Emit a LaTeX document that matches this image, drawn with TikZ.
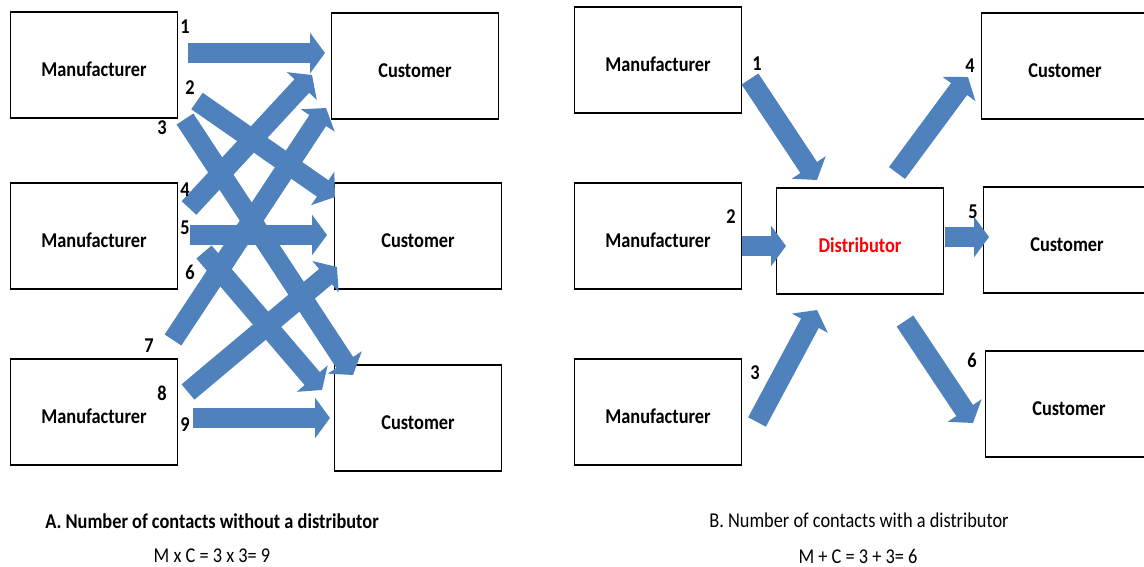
\documentclass[tikz,border=0pt]{standalone}
\usepackage{fontspec}
\setmainfont{Carlito}[FakeStretch=0.87]
\usetikzlibrary{arrows.meta}
\definecolor{arrowblue}{HTML}{4F81BD}
\begin{document}
\begin{tikzpicture}[x=0.02cm, y=-0.02cm,
    box/.style={draw, line width=0.7pt, minimum width=3.34cm, minimum height=2.12cm,
        font=\fontsize{12}{14}\selectfont\bfseries, text height=13.5pt, text depth=0pt},
    fat/.style={draw=arrowblue, line width=0.4cm, -{Triangle[length=0.3cm, width=0.8cm]}},
    num/.style={font=\fontsize{12}{14}\selectfont\bfseries},
    caption/.style={font=\fontsize{12}{14}\selectfont}]
\useasboundingbox (0,0) rectangle (1144,567);
\clip (0,0) rectangle (1144,567);

% A: without a distributor
\foreach \i/\y in {1/65, 2/236, 3/412} {
    \node[box] (m\i) at (94,\y) {Manufacturer};
}
\foreach \i/\x/\y in {1/415/66, 2/418/236, 3/418/418} {
    \node[box] (c\i) at (\x,\y) {Customer};
}
\foreach \i/\sx/\sy/\ex/\ey in {1/188/53/325/53, 2/197/101/335/197, 3/185/119/353/375,
        4/189/208/312/75, 5/190/235/327/235, 6/204/252/322/390,
        7/173/340/326/108, 8/188/392/337/267, 9/193/418/330/418} {
    \coordinate (as\i) at (\sx,\sy);
    \coordinate (ae\i) at (\ex,\ey);
    \draw[fat] (as\i) -- (ae\i);
}
\foreach \i/\x/\y in {1/185/27, 2/190/88, 3/162/128, 4/185/190, 5/185/228,
        6/190/272, 7/149/346, 8/162/393, 9/185/425} {
    \node[num] (an\i) at (\x,\y) {\i};
}

% B: with a distributor
\foreach \i/\y in {1/60, 2/236, 3/412} {
    \node[box] (rm\i) at (658,\y) {Manufacturer};
}
\node[box, text=red] (dist) at (860,241) {Distributor};
\foreach \i/\x/\y in {1/1065/66, 2/1067/240, 3/1069/404} {
    \node[box] (rc\i) at (\x,\y) {Customer};
}
\foreach \i/\sx/\sy/\ex/\ey in {1/750/79/817/180, 2/742/246/786/246, 3/757/422/817/310,
        4/897/173/968/77, 5/945/237/989/237, 6/905/321/973/423} {
    \coordinate (bs\i) at (\sx,\sy);
    \coordinate (be\i) at (\ex,\ey);
    \draw[fat] (bs\i) -- (be\i);
}
\foreach \i/\x/\y in {1/757/64, 2/731/217, 3/755/373, 4/970/66, 5/973/212, 6/972/360} {
    \node[num] (bn\i) at (\x,\y) {\i};
}

% captions
\node[caption, font=\fontsize{12}{14}\selectfont\bfseries] (capA) at (212,521) {A. Number of contacts without a distributor};
\node[caption] (eqA) at (212,556) {M x C = 3 x 3= 9};
\node[caption] (capB) at (859,520) {B. Number of contacts with a distributor};
\node[caption] (eqB) at (858,556) {M + C = 3 + 3= 6};
\end{tikzpicture}
\end{document}
